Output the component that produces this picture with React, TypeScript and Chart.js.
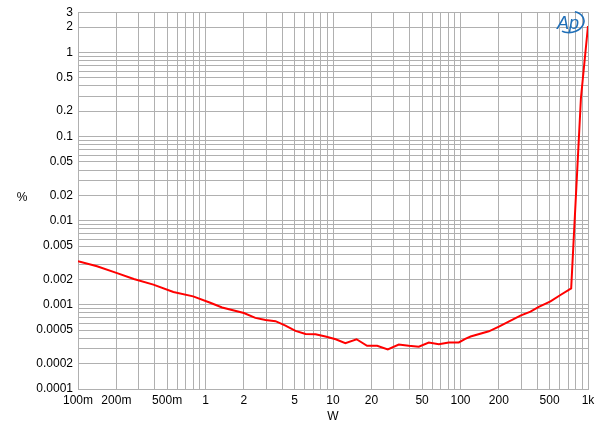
import React, { useEffect, useRef } from 'react';
import { Chart, registerables } from 'chart.js';

Chart.register(...registerables);

// Output power (W)
const power = [
  0.1, 0.141, 0.2, 0.274, 0.39, 0.56, 0.8, 1.09, 1.35, 2.0, 2.46, 2.96, 3.54, 4.24,
  5.08, 6.09, 7.29, 8.73, 10.5, 12.5, 15.3, 18.5, 22.2, 26.9, 32.8, 39.3, 47.1,
  56.4, 67.6, 80.9, 97, 109, 120, 167, 200, 295, 354, 411, 508, 608, 738, 880, 1000,
];
// THD+N (%)
const thd = [
  0.0033, 0.00287, 0.0024, 0.00203, 0.00174, 0.00142, 0.00126, 0.00106, 0.00093,
  0.0008, 0.0007, 0.00066, 0.00064, 0.000565, 0.00049, 0.00045, 0.000446, 0.00042,
  0.00039, 0.00035, 0.00039, 0.000326, 0.000326, 0.000295, 0.000338, 0.000326,
  0.000318, 0.000357, 0.000341, 0.000357, 0.000357, 0.000394, 0.00042, 0.000485,
  0.00055, 0.000746, 0.00083, 0.000945, 0.0011, 0.00131, 0.00157, 0.285, 2.05,
];

const xLabelValues = [0.1, 0.2, 0.5, 1, 2, 5, 10, 20, 50, 100, 200, 500, 1000];
const xLabelTexts = ['100m', '200m', '500m', '1', '2', '5', '10', '20', '50', '100', '200', '500', '1k'];
const yLabelValues = [0.0001, 0.0002, 0.0005, 0.001, 0.002, 0.005, 0.01, 0.02, 0.05, 0.1, 0.2, 0.5, 1, 2, 3];
const yLabelTexts = ['0.0001', '0.0002', '0.0005', '0.001', '0.002', '0.005', '0.01', '0.02', '0.05', '0.1', '0.2', '0.5', '1', '2', '3'];

const X_MIN = 0.1;
const X_MAX = 1000;
const Y_MIN = 0.0001;
const Y_MAX = 3;

function gridValues(min: number, max: number): number[] {
  const out: number[] = [];
  const e0 = Math.floor(Math.log10(min) + 1e-9);
  const e1 = Math.ceil(Math.log10(max) - 1e-9);
  for (let e = e0; e <= e1; e++) {
    for (let m = 1; m <= 9; m++) {
      const v = parseFloat((m * Math.pow(10, e)).toPrecision(6));
      if (v >= min * (1 - 1e-9) && v <= max * (1 + 1e-9)) out.push(v);
    }
  }
  return out;
}

function labelFor(v: number, values: number[], texts: string[]): string {
  for (let i = 0; i < values.length; i++) {
    if (Math.abs(v - values[i]) / values[i] < 1e-6) return texts[i];
  }
  return '';
}

const FONT = 'Arial, Liberation Sans, sans-serif';
const GRID = '#b0b0b0';

const overlayPlugin = {
  id: 'overlay',
  afterDraw(chart: any) {
    const ctx = chart.ctx as CanvasRenderingContext2D;
    ctx.save();
    ctx.fillStyle = '#000';
    ctx.font = `12px ${FONT}`;
    ctx.textAlign = 'center';
    ctx.textBaseline = 'middle';
    ctx.fillText('%', 22, 198);
    ctx.fillText('W', 333, 417);
    // logo
    ctx.fillStyle = '#1f6fb8';
    ctx.strokeStyle = '#1f6fb8';
    ctx.font = `italic 18px ${FONT}`;
    ctx.textAlign = 'left';
    ctx.textBaseline = 'alphabetic';
    ctx.fillText('Ap', 557, 29);
    ctx.lineWidth = 1.6;
    ctx.beginPath();
    ctx.ellipse(570, 22, 14, 10.5, -0.15, -1.1, 2.3);
    ctx.stroke();
    ctx.restore();
  },
};

export default function App() {
  const ref = useRef<HTMLCanvasElement | null>(null);

  useEffect(() => {
    if (!ref.current) return;
    const xGrid = gridValues(X_MIN, X_MAX);
    const yGrid = gridValues(Y_MIN, Y_MAX);
    const chart = new Chart(ref.current, {
      type: 'line',
      data: {
        datasets: [
          {
            data: power.map((p, i) => ({ x: p, y: thd[i] })),
            borderColor: '#ff0000',
            borderWidth: 2,
            pointRadius: 0,
            tension: 0,
            fill: false,
          },
        ],
      },
      options: {
        animation: false,
        responsive: false,
        devicePixelRatio: 1,
        layout: { padding: { top: 8, right: 12, left: 0, bottom: 0 } },
        plugins: {
          legend: { display: false },
          tooltip: { enabled: false },
        },
        scales: {
          x: {
            type: 'logarithmic',
            min: X_MIN,
            max: X_MAX,
            afterBuildTicks: (s: any) => {
              s.ticks = xGrid.map((v) => ({ value: v }));
            },
            afterFit: (s: any) => {
              s.height = 46;
            },
            ticks: {
              autoSkip: false,
              maxRotation: 0,
              minRotation: 0,
              padding: 4,
              color: '#000',
              font: { family: FONT, size: 12 },
              callback: (v: any) => labelFor(Number(v), xLabelValues, xLabelTexts),
            },
            grid: { color: GRID, drawTicks: false, lineWidth: 1 },
            border: { display: true, color: GRID },
          },
          y: {
            type: 'logarithmic',
            min: Y_MIN,
            max: Y_MAX,
            afterBuildTicks: (s: any) => {
              s.ticks = yGrid.concat([Y_MAX]).filter((v, i, a) => a.indexOf(v) === i).map((v) => ({ value: v }));
            },
            afterFit: (s: any) => {
              s.width = 78;
            },
            ticks: {
              autoSkip: false,
              padding: 5,
              color: '#000',
              font: { family: FONT, size: 12 },
              callback: (v: any) => labelFor(Number(v), yLabelValues, yLabelTexts),
            },
            grid: { color: GRID, drawTicks: false, lineWidth: 1 },
            border: { display: true, color: GRID },
          },
        },
      },
      plugins: [overlayPlugin],
    } as any);
    return () => chart.destroy();
  }, []);

  return (
    <div style={{ position: 'fixed', left: 0, top: 0, width: 600, height: 435, background: '#fff' }}>
      <canvas ref={ref} width={600} height={435} style={{ display: 'block' }} />
    </div>
  );
}
